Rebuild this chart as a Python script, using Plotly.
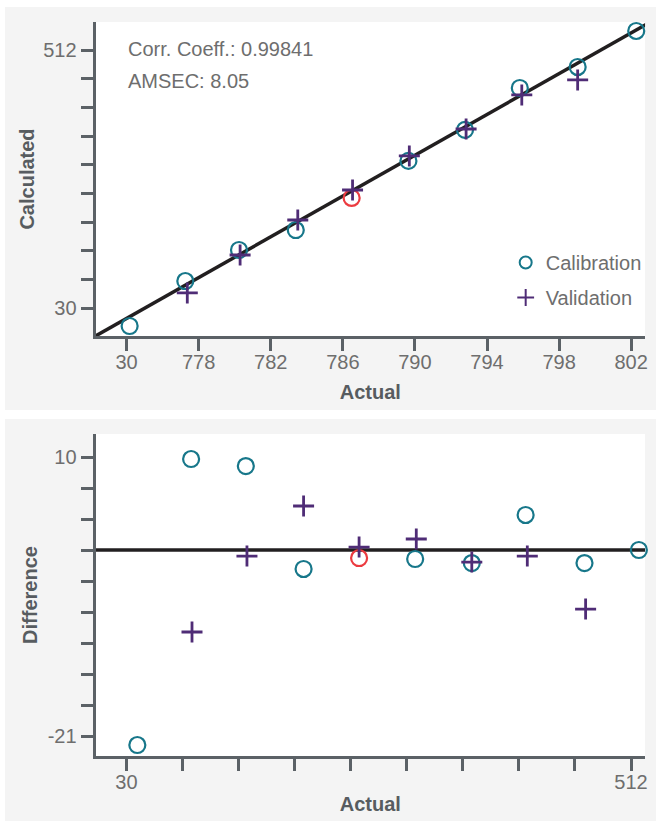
import plotly.graph_objects as go
import numpy as np

W, H = 659, 821

# ---------------- data ----------------
# top panel: Calculated vs Actual
cal_actual = [774.17, 777.26, 780.24, 783.39, 786.49, 789.64, 792.78, 795.82, 799.03, 802.28]
cal_calc = [773.26, 777.67, 780.71, 782.67, 785.81, 789.44, 792.48, 796.59, 798.65, 802.18]
val_actual = [777.37, 780.30, 783.50, 786.54, 789.69, 792.84, 795.93, 799.03]
val_calc = [776.50, 780.22, 783.65, 786.59, 789.93, 792.57, 795.91, 797.38]
highlight_idx = 4  # calibration point drawn in red

# bottom panel: Difference vs sample position
cal_pos = [0.195, 1.154, 2.13, 3.16, 4.15, 5.15, 6.16, 7.12, 8.17, 9.14]
cal_diff = [-22.0, 9.78, 9.0, -2.44, -1.22, -1.33, -1.78, 3.56, -1.78, -0.33]
val_pos = [1.17, 2.15, 3.16, 4.15, 5.17, 6.16, 7.15, 8.19]
val_diff = [-9.44, -1.0, 4.56, 0.0, 0.89, -1.67, -1.0, -6.89]
diff_ref = -0.33

# tick labels
top_x_vals = [774, 778, 782, 786, 790, 794, 798, 802]
top_x_text = ["30", "778", "782", "786", "790", "794", "798", "802"]
top_y_vals = list(np.linspace(775.0, 800.3, 10))
top_y_text = ["30"] + [""] * 8 + ["512"]
bot_x_vals = list(range(10))
bot_x_text = ["30"] + [""] * 8 + ["512"]
bot_y_vals = list(np.linspace(10, -21, 10))
bot_y_text = ["10"] + [""] * 8 + ["-21"]

corr_text = "Corr. Coeff.: 0.99841"
amsec_text = "AMSEC: 8.05"

# ---------------- style ----------------
TEAL = "#17778a"
PURPLE = "#4f2c76"
RED = "#ec3b40"
AXIS = "#5b6166"
TICKFONT = dict(family="Liberation Sans, Arial, sans-serif", size=20, color="#6e6e6e")
TITLEFONT = dict(family="Liberation Sans, Arial, sans-serif", size=20, color="#575c60", weight="bold")

cal_colors = [RED if i == highlight_idx else TEAL for i in range(len(cal_actual))]

def px_x(p):
    return p / W

def px_y(p):
    return 1 - p / H

fig = go.Figure()

# reference lines
line_x = [770, 806]
fig.add_trace(go.Scatter(x=line_x, y=line_x, mode="lines", line=dict(color="#221f20", width=3.5),
                         showlegend=False, hoverinfo="skip", xaxis="x", yaxis="y"))
fig.add_trace(go.Scatter(x=[-1, 10], y=[diff_ref, diff_ref], mode="lines",
                         line=dict(color="#221f20", width=3.5),
                         showlegend=False, hoverinfo="skip", xaxis="x2", yaxis="y2"))

circle = dict(symbol="circle-open", size=16, color=cal_colors, line=dict(width=2.2))
cross = dict(symbol="cross-thin-open", size=15, color=PURPLE, line=dict(width=2.8, color=PURPLE))

fig.add_trace(go.Scatter(x=cal_actual, y=cal_calc, mode="markers", name="Calibration",
                         marker=circle, cliponaxis=False, xaxis="x", yaxis="y",
                         legendgroup="c"))
fig.add_trace(go.Scatter(x=val_actual, y=val_calc, mode="markers", name="Validation",
                         marker=cross, cliponaxis=False, xaxis="x", yaxis="y",
                         legendgroup="v"))
fig.add_trace(go.Scatter(x=cal_pos, y=cal_diff, mode="markers", name="Calibration",
                         marker=circle, cliponaxis=False, xaxis="x2", yaxis="y2",
                         showlegend=False))
fig.add_trace(go.Scatter(x=val_pos, y=val_diff, mode="markers", name="Validation",
                         marker=cross, cliponaxis=False, xaxis="x2", yaxis="y2",
                         showlegend=False))

axis_common = dict(showline=True, linecolor=AXIS, linewidth=3, ticks="outside", ticklen=12,
                   tickwidth=2.6, tickcolor=AXIS, showgrid=False, zeroline=False,
                   tickfont=TICKFONT, tickmode="array", fixedrange=True)

x_dom = [px_x(96), px_x(648)]
top_dom = [px_y(336), px_y(22)]
bot_dom = [px_y(756), px_y(434)]

fig.update_layout(
    width=W, height=H,
    margin=dict(l=0, r=0, t=0, b=0),
    paper_bgcolor="white", plot_bgcolor="white",
    showlegend=True,
    legend=dict(x=px_x(508), y=px_y(243), xanchor="left", yanchor="top",
                bgcolor="rgba(0,0,0,0)", font=TICKFONT, tracegroupgap=6,
                itemwidth=30, itemsizing="constant"),
    xaxis=dict(domain=x_dom, anchor="y", range=[772.28, 802.77],
               tickvals=top_x_vals, ticktext=top_x_text, ticklabelstandoff=-6,
               title=dict(text="Actual", font=TITLEFONT, standoff=13), **axis_common),
    yaxis=dict(domain=top_dom, anchor="x", range=[772.28, 803.06],
               tickvals=top_y_vals, ticktext=top_y_text,
               title=dict(text="Calculated", font=TITLEFONT, standoff=4), **axis_common),
    xaxis2=dict(domain=x_dom, anchor="y2", range=[-0.55, 9.25],
                tickvals=bot_x_vals, ticktext=bot_x_text, ticklabelstandoff=-6,
                title=dict(text="Actual", font=TITLEFONT, standoff=5), **axis_common),
    yaxis2=dict(domain=bot_dom, anchor="x2", range=[-23.22, 12.56],
                tickvals=bot_y_vals, ticktext=bot_y_text,
                title=dict(text="Difference", font=TITLEFONT, standoff=5), **axis_common),
    shapes=[
        dict(type="rect", xref="paper", yref="paper", x0=px_x(5), x1=1, y0=px_y(410), y1=px_y(7),
             fillcolor="#f4f4f4", line=dict(width=0), layer="below"),
        dict(type="rect", xref="paper", yref="paper", x0=px_x(5), x1=1, y0=0, y1=px_y(419),
             fillcolor="#f4f4f4", line=dict(width=0), layer="below"),
        dict(type="rect", xref="x domain", yref="y domain", x0=0, x1=1, y0=0, y1=1,
             fillcolor="white", line=dict(width=0), layer="below"),
        dict(type="rect", xref="x2 domain", yref="y2 domain", x0=0, x1=1, y0=0, y1=1,
             fillcolor="white", line=dict(width=0), layer="below"),
    ],
    annotations=[
        dict(text=corr_text, xref="paper", yref="paper", x=px_x(127), y=px_y(49),
             xanchor="left", yanchor="middle", showarrow=False, font=TICKFONT),
        dict(text=amsec_text, xref="paper", yref="paper", x=px_x(127), y=px_y(81),
             xanchor="left", yanchor="middle", showarrow=False, font=TICKFONT),
    ],
)

fig.write_html("out.html", config={"displayModeBar": False},
               post_script="document.body.style.margin='0';document.body.style.overflow='hidden';")
